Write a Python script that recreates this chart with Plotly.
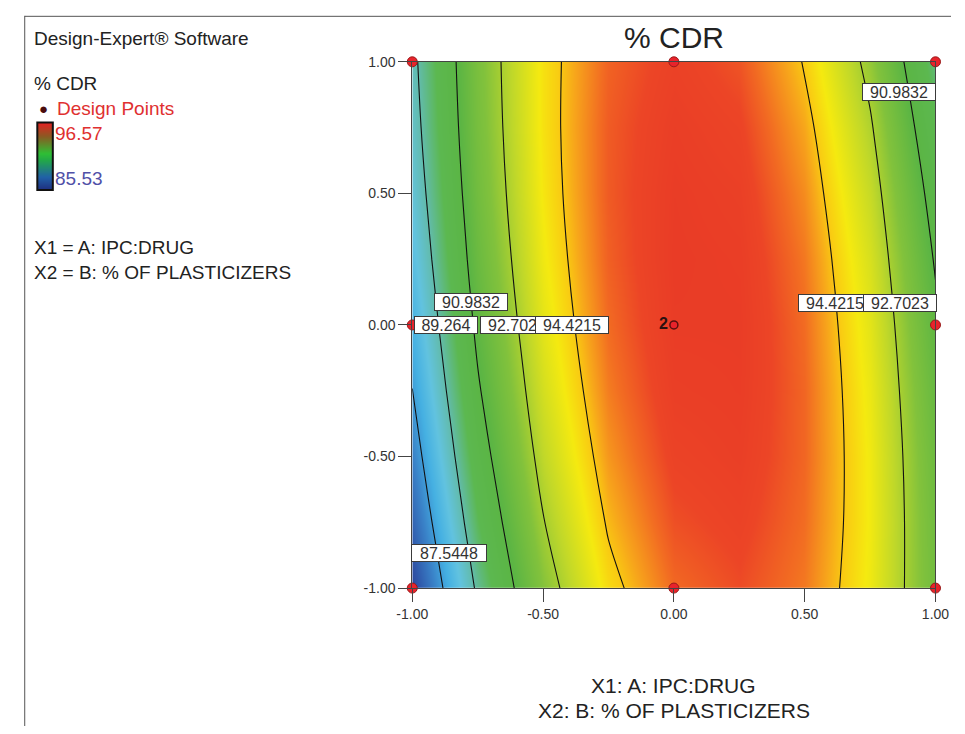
import plotly.graph_objects as go

W, H = 965, 734

# ---- data ----
x_vals = [-1.0, -0.75, -0.5, -0.25, 0.0, 0.25, 0.5, 0.75, 1.0]   # X1: A: IPC:DRUG (coded)
y_vals = [-1.0, -0.75, -0.5, -0.25, 0.0, 0.25, 0.5, 0.75, 1.0]   # X2: B: % OF PLASTICIZERS (coded)
# % CDR (rows follow y_vals, columns follow x_vals)
cdr = [
    [85.87, 89.44, 92.20, 94.15, 95.28, 95.61, 95.12, 93.81, 91.70],
    [86.49, 89.98, 92.65, 94.52, 95.57, 95.81, 95.24, 93.86, 91.66],
    [87.04, 90.45, 93.05, 94.83, 95.80, 95.96, 95.31, 93.84, 91.57],
    [87.53, 90.86, 93.37, 95.08, 95.97, 96.04, 95.31, 93.76, 91.40],
    [87.96, 91.20, 93.64, 95.26, 96.07, 96.07, 95.25, 93.62, 91.18],
    [88.32, 91.49, 93.84, 95.38, 96.11, 96.02, 95.13, 93.42, 90.89],
    [88.62, 91.71, 93.98, 95.44, 96.08, 95.92, 94.94, 93.15, 90.55],
    [88.86, 91.86, 94.05, 95.43, 95.99, 95.75, 94.69, 92.82, 90.13],
    [89.02, 91.95, 94.06, 95.35, 95.84, 95.51, 94.37, 92.41, 89.65],
]
z_min, z_max = 85.53, 96.57
contour_start, contour_step, contour_end = 87.5448, 1.71915, 94.4215

design_x = [-1, 0, 1, -1, 1, -1, 0, 1]
design_y = [1, 1, 1, 0, 0, -1, -1, -1]
center_x, center_y, center_reps = [0], [0], ["2"]

label_text = ["90.9832", "90.9832", "89.264", "92.7023", "94.4215", "94.4215", "92.7023", "87.5448"]
label_x = [0.859, -0.774, -0.872, -0.600, -0.389, 0.615, 0.863, -0.859]
label_y = [0.885, 0.089, 0.000, 0.000, 0.000, 0.085, 0.085, -0.866]
label_w = [72, 72, 62, 72, 72, 72, 72, 74]

tick_vals = [-1, -0.5, 0, 0.5, 1]
tick_text = ["-1.00", "-0.50", "0.00", "0.50", "1.00"]

legend_bar = [[z_min], [z_max]]

# ---- styling ----
cs = [
    [0.00, '#2a3b8f'], [0.06, '#2f55a8'], [0.14, '#3a82c8'], [0.21, '#45b0e2'],
    [0.27, '#62c3e0'], [0.34, '#62bba8'], [0.41, '#5cb850'], [0.50, '#5bb544'],
    [0.60, '#82c23c'], [0.68, '#c0d82a'], [0.76, '#f5ea10'], [0.80, '#f9cc12'],
    [0.83, '#f7a61b'], [0.88, '#f26c22'], [0.92, '#ec4526'], [1.00, '#e63226'],
]
legend_cs = [[0, '#1f2a7c'], [0.2, '#2060a8'], [0.45, '#22a848'], [0.55, '#2fbf35'],
             [0.8, '#8a5a22'], [1, '#e42222']]

FONT = "Liberation Sans, Arial, sans-serif"

def px(xp):
    return xp / W

def py(yp):
    return 1 - yp / H

fig = go.Figure()

fig.add_trace(go.Contour(
    x=x_vals, y=y_vals, z=cdr, zmin=z_min, zmax=z_max, zauto=False,
    colorscale=cs, showscale=False,
    contours=dict(start=contour_start, end=contour_end, size=contour_step,
                  coloring='heatmap', showlabels=False),
    line=dict(color='#111111', width=1.1, smoothing=1.0),
    hoverinfo='skip', xaxis='x', yaxis='y'))

fig.add_trace(go.Scatter(
    x=design_x, y=design_y, mode='markers', cliponaxis=False,
    marker=dict(size=10, color='#e8232b', line=dict(color='#9a1a1a', width=1)),
    hoverinfo='skip', xaxis='x', yaxis='y', showlegend=False))

fig.add_trace(go.Scatter(
    x=center_x, y=center_y, mode='markers+text', text=center_reps,
    textposition='middle left', cliponaxis=False,
    textfont=dict(family=FONT, size=16, color='#2a1010', weight='bold'),
    marker=dict(size=8, color='#e8232b', line=dict(color='#5a1010', width=1.5)),
    hoverinfo='skip', xaxis='x', yaxis='y', showlegend=False))

fig.add_trace(go.Heatmap(
    x=[0], y=[0, 1], z=legend_bar, zmin=z_min, zmax=z_max, colorscale=legend_cs,
    zsmooth='best', showscale=False, hoverinfo='skip', xaxis='x2', yaxis='y2'))

axis_common = dict(range=[-1, 1], autorange=False, tickvals=tick_vals, ticktext=tick_text,
                   ticks='outside', ticklen=13, tickwidth=1, tickcolor='#444444',
                   showline=True, linecolor='#444444', linewidth=1, mirror=True,
                   showgrid=False, zeroline=False,
                   tickfont=dict(family=FONT, size=14, color='#333333'))

annotations = []
for t, lx, ly, lw in zip(label_text, label_x, label_y, label_w):
    annotations.append(dict(x=lx, y=ly, xref='x', yref='y', text=t, showarrow=False,
                            font=dict(family=FONT, size=16, color='#333333'),
                            bgcolor='white', bordercolor='#3a3a3a', borderwidth=1,
                            borderpad=0, width=lw, height=16))

def txt(s, xp, yp, size, color='#222222', anchor='left'):
    annotations.append(dict(x=px(xp), y=py(yp), xref='paper', yref='paper', text=s,
                            showarrow=False, xanchor=anchor, yanchor='middle',
                            font=dict(family=FONT, size=size, color=color)))

txt("% CDR", 679, 30, 30, '#222222', 'center')
txt("Design-Expert® Software", 17, 31, 19)
txt("% CDR", 17, 77, 19)
txt("●", 22, 103, 15, '#4a0c0c')
txt("Design Points", 40, 103, 19, '#e03030')
txt("96.57", 38, 128, 19, '#e03030')
txt("85.53", 38, 174, 19, '#5050a8')
txt("X1 = A: IPC:DRUG", 17, 245, 19)
txt("X2 = B: % OF PLASTICIZERS", 17, 270, 19)
txt("X1: A: IPC:DRUG", 679, 693, 21, '#222222', 'center')
txt("X2: B: % OF PLASTICIZERS", 679, 718, 21, '#222222', 'center')

shapes = [
    dict(type='rect', xref='paper', yref='paper', x0=px(22), x1=px(38), y0=py(186), y1=py(117),
         line=dict(color='#111111', width=2)),
    dict(type='line', xref='paper', yref='paper', x0=px(9), x1=1, y0=py(8.5), y1=py(8.5),
         line=dict(color='#555555', width=1)),
    dict(type='line', xref='paper', yref='paper', x0=px(9), x1=px(9), y0=py(8), y1=0,
         line=dict(color='#555555', width=1)),
]

fig.update_layout(
    width=W, height=H, margin=dict(l=0, r=0, t=0, b=0),
    paper_bgcolor='white', plot_bgcolor='white', showlegend=False,
    xaxis=dict(domain=[px(409), px(949)], anchor='y', **axis_common),
    yaxis=dict(domain=[py(593), py(55)], anchor='x', **axis_common),
    xaxis2=dict(domain=[px(22), px(38)], anchor='y2', range=[-0.5, 0.5], visible=False, fixedrange=True),
    yaxis2=dict(domain=[py(186), py(117)], anchor='x2', range=[0, 1], visible=False, fixedrange=True),
    annotations=annotations, shapes=shapes,
)

fig.write_html("out.html")
